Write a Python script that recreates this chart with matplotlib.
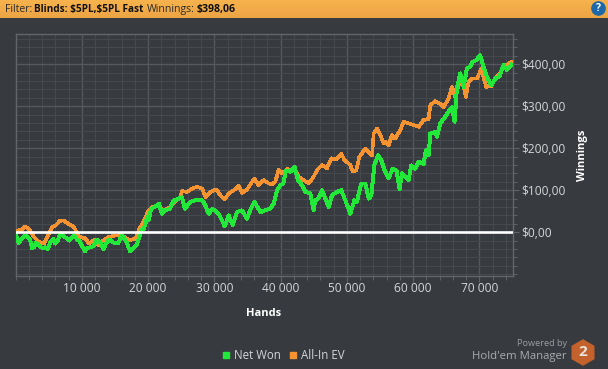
import matplotlib
matplotlib.use("Agg")
import matplotlib.pyplot as plt
from matplotlib.patches import RegularPolygon, Circle, Rectangle
from matplotlib.ticker import MultipleLocator, FuncFormatter
import numpy as np

plt.rcParams['font.family'] = ['Open Sans', 'DejaVu Sans']
plt.rcParams['text.parse_math'] = False

net_hands = [0,300,500,800,1100,1500,1900,2200,2500,2800,3100,3400,3800,4200,4500,4900,5300,5700,6000,6400,6700,7000,7300,7700,8100,8500,8900,9300,9700,10000,10500,10800,11300,11800,12200,12700,13300,13700,14200,14800,15500,16000,16300,16800,17300,17800,18350,18700,19000,19400,19860,20100,20460,21000,21620,22120,22600,23300,23880,24640,25140,25540,26400,27150,27900,28400,29160,29700,30670,31580,32180,32780,33440,34190,34950,35400,36050,36950,37700,38400,38960,39460,39960,40400,40820,41470,42130,42630,43230,43740,44490,44990,45240,45700,46250,46750,47260,47760,48510,49170,49770,50530,51130,51500,52190,52800,53290,53700,54150,54700,55200,55710,56300,56900,57500,57960,58310,59320,59720,60300,60830,61580,61930,62340,62590,63340,63600,64100,64850,65350,65860,66260,66610,67110,67620,68120,68600,68970,69480,70130,70630,71140,71790,72400,73000,73650,74150,74800]
net_won = [-3,-18,-26,-17,-12,-8,-12,-18,-38,-36,-25,-28,-36,-38,-36,-40,-22,-16,-27,-20,-5,-3,-10,-14,-20,-13,-8,-17,-22,-32,-45,-38,-36,-33,-18,-22,-40,-25,-17,-25,-26,-8,-12,-25,-46,-38,-28,-10,5,9,36,28,56,60,68,44,52,56,76,80,83,56,72,76,78,72,44,56,44,14,40,17,48,52,32,52,72,48,52,56,68,100,112,116,147,144,155,124,112,96,92,52,76,80,100,80,60,88,96,100,76,44,76,72,116,116,80,88,160,183,171,147,128,151,147,102,140,124,159,151,167,163,195,183,235,239,227,259,275,287,298,263,342,378,346,390,394,405,409,421,394,370,350,366,370,398,386,398]

ev_hands = [0,600,1000,1360,2000,2770,3520,4270,5030,5530,6000,6690,7290,8050,8800,9560,10560,11070,11820,12580,13200,14000,15000,15850,16500,17100,18110,18610,19110,20110,20700,21400,22370,23300,24000,24890,25140,25890,26650,27400,28160,28660,29410,30320,30920,31530,32180,32940,33690,34190,34950,35550,36050,36500,36700,37450,38200,38700,39200,39710,40200,41000,42230,42730,43480,44240,44990,45500,46250,47000,47660,48400,49170,49670,50530,50880,51430,51880,52790,53800,54050,54550,55060,55560,55796,56300,56800,57300,58060,58560,59320,60070,60830,61580,62340,62590,63340,64100,64600,65350,65860,66360,66860,67470,67970,68370,68870,69630,70280,70680,71040,71790,72400,73100,73650,74150,74800]
all_in_ev = [3,5,6,14,8,-11,-23,-27,-3,13,15,27,28,19,13,-10,-15,-27,-19,-31,-20,-12,-8,-7,-12,-19,-15,5,20,52,60,64,52,60,72,84,98,96,104,108,104,84,96,102,88,78,92,100,110,94,102,116,128,116,112,124,116,114,120,148,140,150,148,132,124,116,132,148,160,152,176,174,187,171,160,144,148,179,199,183,235,247,231,211,215,207,231,223,243,263,259,255,251,267,270,302,312,306,298,318,346,322,350,358,322,358,366,366,388,366,346,348,366,378,394,398,405]

x_ticks = [10000,20000,30000,40000,50000,60000,70000]
y_ticks = [0,100,200,300,400]
net_label = "Net Won"
ev_label = "All-In EV"

BG = '#373B3F'
W, H = 608, 369
fig = plt.figure(figsize=(W/100, H/100), dpi=100, facecolor=BG)

# overlay in pixel space for chrome
ov = fig.add_axes([0, 0, 1, 1], zorder=0)
ov.set_xlim(0, W); ov.set_ylim(H, 0); ov.axis('off')
cols = np.linspace([0.965, 0.70, 0.30], [0.93, 0.645, 0.27], 18).reshape(18, 1, 3)
ov.imshow(cols, extent=(0, W, 18, 0), aspect='auto', zorder=1, interpolation='bilinear')
ov.set_xlim(0, W); ov.set_ylim(H, 0)

ov.text(5, 9.5, "Filter:", fontsize=7.6, color='#2b2b2b', va='center', ha='left')
ov.text(34, 9.5, "Blinds: $5PL,$5PL Fast", fontsize=7.2, color='#111111', va='center', ha='left', fontweight='bold')
ov.text(146.5, 9.5, "Winnings:", fontsize=7.6, color='#2b2b2b', va='center', ha='left')
ov.text(196.5, 9.5, "$398,06", fontsize=7.6, color='#111111', va='center', ha='left', fontweight='bold')
ov.add_patch(Circle((598.5, 8.5), 6.6, color='#1D68A8', zorder=2))
ov.text(598.5, 8.7, "?", fontsize=7.5, color='white', ha='center', va='center', fontweight='bold', zorder=3)

ov.add_patch(Rectangle((223, 352), 6, 6, color='#22E83A'))
ov.add_patch(Rectangle((290, 352), 6, 6, color='#F59331'))
ov.text(234, 355.5, net_label, fontsize=8.3, color='#D5D7D8', va='center', ha='left')
ov.text(301, 355.5, ev_label, fontsize=8.3, color='#D5D7D8', va='center', ha='left')

ov.text(567, 344, "Powered by", fontsize=6.6, color='#9A9D9F', va='center', ha='right')
ov.text(567, 356, "Hold'em Manager", fontsize=8.2, color='#A8ABAD', va='center', ha='right')
ov.add_patch(RegularPolygon((583, 352.5), 6, radius=12.5, orientation=0, color='#C4622D'))
ov.text(583, 352.5, "2", fontsize=11, color='#E9E4DE', ha='center', va='center', fontweight='bold')

ov.text(264, 313.5, "Hands", fontsize=8, color='white', ha='center', va='center', fontweight='bold')
ov.text(583, 155, "Winnings", fontsize=8, color='white', ha='center', va='center', fontweight='bold', rotation=90)

# main plot
L, R, T, B = 15.5, 512.5, 33.5, 275.5
ax = fig.add_axes([L/W, 1-B/H, (R-L)/W, (B-T)/H], zorder=1)
ax.set_facecolor(BG)
ax.set_xlim(0, 75000)
ax.set_ylim(-103, 473)

ax.xaxis.set_minor_locator(MultipleLocator(2000))
ax.yaxis.set_minor_locator(MultipleLocator(20))
ax.set_xticks(x_ticks)
ax.set_yticks(y_ticks)
ax.xaxis.set_major_formatter(FuncFormatter(lambda v, p: f"{int(v):,}".replace(",", " ")))
ax.yaxis.set_major_formatter(FuncFormatter(lambda v, p: f"${int(v)},00"))
ax.yaxis.tick_right()

ax.grid(True, which='major', color='#55595D', lw=1.0, zorder=1)
ax.grid(True, which='minor', color='#45494D', lw=0.8, zorder=0.5)
ax.set_axisbelow(True)
ax.tick_params(axis='y', which='major', length=4, width=0.8, color='#5F6367', labelcolor='#D5D7D8', labelsize=8.6, pad=2.5)
ax.tick_params(axis='x', which='major', length=4, width=0.8, color='#5F6367', labelcolor='#D5D7D8', labelsize=8.6, pad=1)
ax.tick_params(axis='both', which='minor', length=3, width=0.7, color='#5F6367')
for s in ax.spines.values():
    s.set_color('#62666A'); s.set_linewidth(1.0)

ax.plot(ev_hands, all_in_ev, color='#F59331', lw=1.9, zorder=3, antialiased=False)
ax.plot(net_hands, net_won, color='#22E83A', lw=2.1, zorder=4, antialiased=False)
ax.axhline(0, color='white', lw=1.9, zorder=5)

fig.savefig('out.png', dpi=100, facecolor=BG)
